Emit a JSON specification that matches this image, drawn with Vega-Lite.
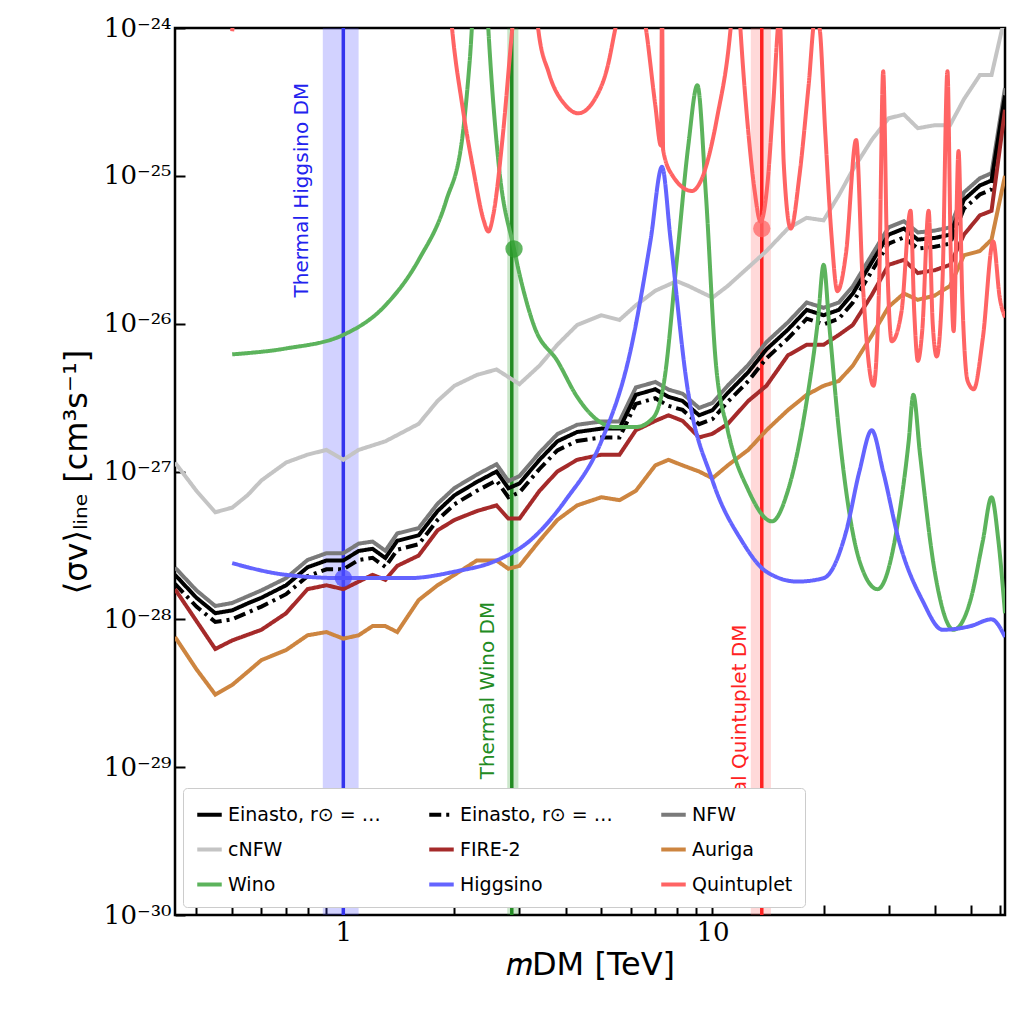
{
  "$schema": "https://vega.github.io/schema/vega-lite/v6.json",
  "width": 830,
  "height": 887,
  "autosize": "none",
  "padding": {"left": 175, "top": 28, "right": 19, "bottom": 109},
  "background": "#ffffff",
  "config": {
    "view": {"stroke": "black", "strokeWidth": 2.5},
    "font": "DejaVu Sans",
    "axis": {"labelFont": "DejaVu Serif", "labelFontSize": 26, "labelColor": "black", "titleFontSize": 32, "titleFontWeight": "normal", "titleColor": "black", "domain": false, "grid": false, "tickColor": "black", "tickSize": -10, "tickWidth": 2, "labelPadding": 14}
  },
  "datasets": {
    "curves": [
      {"s":"NFW","x":0.35,"y":2.24e-28},{"s":"NFW","x":0.4,"y":1.57e-28},{"s":"NFW","x":0.45,"y":1.23e-28},{"s":"NFW","x":0.5,"y":1.29e-28},{"s":"NFW","x":0.55,"y":1.43e-28},{"s":"NFW","x":0.6,"y":1.57e-28},{"s":"NFW","x":0.7,"y":1.9e-28},{"s":"NFW","x":0.8,"y":2.52e-28},{"s":"NFW","x":0.9,"y":2.8e-28},{"s":"NFW","x":1.0,"y":2.8e-28},{"s":"NFW","x":1.1,"y":3.25e-28},{"s":"NFW","x":1.2,"y":3.36e-28},{"s":"NFW","x":1.3,"y":2.91e-28},{"s":"NFW","x":1.4,"y":3.81e-28},{"s":"NFW","x":1.6,"y":4.14e-28},{"s":"NFW","x":1.8,"y":6.05e-28},{"s":"NFW","x":2.0,"y":7.73e-28},{"s":"NFW","x":2.3,"y":9.52e-28},{"s":"NFW","x":2.6,"y":11.2e-28},{"s":"NFW","x":2.8,"y":8.62e-28},{"s":"NFW","x":3.0,"y":9.3e-28},{"s":"NFW","x":3.4,"y":13.4e-28},{"s":"NFW","x":3.8,"y":17.9e-28},{"s":"NFW","x":4.3,"y":20.7e-28},{"s":"NFW","x":5.0,"y":21.8e-28},{"s":"NFW","x":5.6,"y":21.8e-28},{"s":"NFW","x":6.2,"y":37e-28},{"s":"NFW","x":7.0,"y":40.3e-28},{"s":"NFW","x":7.6,"y":35.8e-28},{"s":"NFW","x":8.3,"y":33.6e-28},{"s":"NFW","x":9.2,"y":26.9e-28},{"s":"NFW","x":10,"y":29.1e-28},{"s":"NFW","x":11,"y":38.1e-28},{"s":"NFW","x":12.5,"y":52.6e-28},{"s":"NFW","x":14,"y":75e-28},{"s":"NFW","x":16,"y":102e-28},{"s":"NFW","x":18,"y":139e-28},{"s":"NFW","x":20,"y":128e-28},{"s":"NFW","x":22,"y":139e-28},{"s":"NFW","x":24,"y":179e-28},{"s":"NFW","x":27,"y":291e-28},{"s":"NFW","x":30,"y":448e-28},{"s":"NFW","x":33,"y":493e-28},{"s":"NFW","x":36,"y":414e-28},{"s":"NFW","x":40,"y":426e-28},{"s":"NFW","x":44,"y":448e-28},{"s":"NFW","x":48,"y":773e-28},{"s":"NFW","x":53,"y":963e-28},{"s":"NFW","x":57,"y":1042e-28},{"s":"NFW","x":62,"y":3920e-28},

      {"s":"E1","x":0.35,"y":2.0e-28},{"s":"E1","x":0.4,"y":1.4e-28},{"s":"E1","x":0.45,"y":1.1e-28},{"s":"E1","x":0.5,"y":1.15e-28},{"s":"E1","x":0.55,"y":1.28e-28},{"s":"E1","x":0.6,"y":1.4e-28},{"s":"E1","x":0.7,"y":1.7e-28},{"s":"E1","x":0.8,"y":2.25e-28},{"s":"E1","x":0.9,"y":2.5e-28},{"s":"E1","x":1.0,"y":2.5e-28},{"s":"E1","x":1.1,"y":2.9e-28},{"s":"E1","x":1.2,"y":3.0e-28},{"s":"E1","x":1.3,"y":2.6e-28},{"s":"E1","x":1.4,"y":3.4e-28},{"s":"E1","x":1.6,"y":3.7e-28},{"s":"E1","x":1.8,"y":5.4e-28},{"s":"E1","x":2.0,"y":6.9e-28},{"s":"E1","x":2.3,"y":8.5e-28},{"s":"E1","x":2.6,"y":10e-28},{"s":"E1","x":2.8,"y":7.7e-28},{"s":"E1","x":3.0,"y":8.3e-28},{"s":"E1","x":3.4,"y":12e-28},{"s":"E1","x":3.8,"y":16e-28},{"s":"E1","x":4.3,"y":18.5e-28},{"s":"E1","x":5.0,"y":19.5e-28},{"s":"E1","x":5.6,"y":19.5e-28},{"s":"E1","x":6.2,"y":33e-28},{"s":"E1","x":7.0,"y":36e-28},{"s":"E1","x":7.6,"y":32e-28},{"s":"E1","x":8.3,"y":30e-28},{"s":"E1","x":9.2,"y":24e-28},{"s":"E1","x":10,"y":26e-28},{"s":"E1","x":11,"y":34e-28},{"s":"E1","x":12.5,"y":47e-28},{"s":"E1","x":14,"y":67e-28},{"s":"E1","x":16,"y":91e-28},{"s":"E1","x":18,"y":124e-28},{"s":"E1","x":20,"y":114e-28},{"s":"E1","x":22,"y":124e-28},{"s":"E1","x":24,"y":160e-28},{"s":"E1","x":27,"y":260e-28},{"s":"E1","x":30,"y":400e-28},{"s":"E1","x":33,"y":440e-28},{"s":"E1","x":36,"y":370e-28},{"s":"E1","x":40,"y":380e-28},{"s":"E1","x":44,"y":400e-28},{"s":"E1","x":48,"y":690e-28},{"s":"E1","x":53,"y":860e-28},{"s":"E1","x":57,"y":930e-28},{"s":"E1","x":62,"y":3500e-28},

      {"s":"E2","x":0.35,"y":1.74e-28},{"s":"E2","x":0.4,"y":1.22e-28},{"s":"E2","x":0.45,"y":0.96e-28},{"s":"E2","x":0.5,"y":1.0e-28},{"s":"E2","x":0.55,"y":1.11e-28},{"s":"E2","x":0.6,"y":1.22e-28},{"s":"E2","x":0.7,"y":1.48e-28},{"s":"E2","x":0.8,"y":1.96e-28},{"s":"E2","x":0.9,"y":2.18e-28},{"s":"E2","x":1.0,"y":2.18e-28},{"s":"E2","x":1.1,"y":2.52e-28},{"s":"E2","x":1.2,"y":2.61e-28},{"s":"E2","x":1.3,"y":2.26e-28},{"s":"E2","x":1.4,"y":2.96e-28},{"s":"E2","x":1.6,"y":3.22e-28},{"s":"E2","x":1.8,"y":4.7e-28},{"s":"E2","x":2.0,"y":6.0e-28},{"s":"E2","x":2.3,"y":7.4e-28},{"s":"E2","x":2.6,"y":8.7e-28},{"s":"E2","x":2.8,"y":6.7e-28},{"s":"E2","x":3.0,"y":7.22e-28},{"s":"E2","x":3.4,"y":10.4e-28},{"s":"E2","x":3.8,"y":13.9e-28},{"s":"E2","x":4.3,"y":16.1e-28},{"s":"E2","x":5.0,"y":17e-28},{"s":"E2","x":5.6,"y":17e-28},{"s":"E2","x":6.2,"y":28.7e-28},{"s":"E2","x":7.0,"y":31.3e-28},{"s":"E2","x":7.6,"y":27.8e-28},{"s":"E2","x":8.3,"y":26.1e-28},{"s":"E2","x":9.2,"y":20.9e-28},{"s":"E2","x":10,"y":22.6e-28},{"s":"E2","x":11,"y":29.6e-28},{"s":"E2","x":12.5,"y":40.9e-28},{"s":"E2","x":14,"y":58.3e-28},{"s":"E2","x":16,"y":79.2e-28},{"s":"E2","x":18,"y":108e-28},{"s":"E2","x":20,"y":99e-28},{"s":"E2","x":22,"y":108e-28},{"s":"E2","x":24,"y":139e-28},{"s":"E2","x":27,"y":226e-28},{"s":"E2","x":30,"y":348e-28},{"s":"E2","x":33,"y":383e-28},{"s":"E2","x":36,"y":322e-28},{"s":"E2","x":40,"y":331e-28},{"s":"E2","x":44,"y":348e-28},{"s":"E2","x":48,"y":600e-28},{"s":"E2","x":53,"y":748e-28},{"s":"E2","x":57,"y":809e-28},{"s":"E2","x":62,"y":3045e-28},

      {"s":"FIRE","x":0.35,"y":1.6e-28},{"s":"FIRE","x":0.45,"y":0.63e-28},{"s":"FIRE","x":0.5,"y":0.72e-28},{"s":"FIRE","x":0.6,"y":0.85e-28},{"s":"FIRE","x":0.7,"y":1.1e-28},{"s":"FIRE","x":0.8,"y":1.6e-28},{"s":"FIRE","x":0.9,"y":1.7e-28},{"s":"FIRE","x":1.0,"y":1.6e-28},{"s":"FIRE","x":1.2,"y":2.0e-28},{"s":"FIRE","x":1.3,"y":1.85e-28},{"s":"FIRE","x":1.4,"y":2.3e-28},{"s":"FIRE","x":1.6,"y":2.7e-28},{"s":"FIRE","x":1.8,"y":4.0e-28},{"s":"FIRE","x":2.0,"y":4.7e-28},{"s":"FIRE","x":2.3,"y":5.4e-28},{"s":"FIRE","x":2.6,"y":5.9e-28},{"s":"FIRE","x":2.8,"y":4.8e-28},{"s":"FIRE","x":3.0,"y":4.8e-28},{"s":"FIRE","x":3.4,"y":7.4e-28},{"s":"FIRE","x":3.8,"y":10e-28},{"s":"FIRE","x":4.3,"y":12e-28},{"s":"FIRE","x":5.0,"y":13e-28},{"s":"FIRE","x":5.6,"y":13e-28},{"s":"FIRE","x":6.2,"y":19e-28},{"s":"FIRE","x":7.0,"y":22e-28},{"s":"FIRE","x":7.6,"y":24e-28},{"s":"FIRE","x":8.3,"y":22e-28},{"s":"FIRE","x":9.2,"y":17e-28},{"s":"FIRE","x":10,"y":18e-28},{"s":"FIRE","x":11,"y":21e-28},{"s":"FIRE","x":12.5,"y":30e-28},{"s":"FIRE","x":14,"y":38e-28},{"s":"FIRE","x":16,"y":61e-28},{"s":"FIRE","x":18,"y":72e-28},{"s":"FIRE","x":20,"y":72e-28},{"s":"FIRE","x":22,"y":84e-28},{"s":"FIRE","x":24,"y":98e-28},{"s":"FIRE","x":27,"y":156e-28},{"s":"FIRE","x":30,"y":250e-28},{"s":"FIRE","x":33,"y":270e-28},{"s":"FIRE","x":36,"y":220e-28},{"s":"FIRE","x":40,"y":230e-28},{"s":"FIRE","x":44,"y":250e-28},{"s":"FIRE","x":48,"y":400e-28},{"s":"FIRE","x":53,"y":540e-28},{"s":"FIRE","x":57,"y":580e-28},{"s":"FIRE","x":62,"y":2800e-28},

      {"s":"Aur","x":0.35,"y":0.76e-28},{"s":"Aur","x":0.4,"y":0.46e-28},{"s":"Aur","x":0.45,"y":0.31e-28},{"s":"Aur","x":0.5,"y":0.36e-28},{"s":"Aur","x":0.55,"y":0.44e-28},{"s":"Aur","x":0.6,"y":0.53e-28},{"s":"Aur","x":0.7,"y":0.62e-28},{"s":"Aur","x":0.8,"y":0.78e-28},{"s":"Aur","x":0.9,"y":0.82e-28},{"s":"Aur","x":1.0,"y":0.74e-28},{"s":"Aur","x":1.1,"y":0.78e-28},{"s":"Aur","x":1.2,"y":0.9e-28},{"s":"Aur","x":1.3,"y":0.9e-28},{"s":"Aur","x":1.4,"y":0.82e-28},{"s":"Aur","x":1.6,"y":1.35e-28},{"s":"Aur","x":1.8,"y":1.7e-28},{"s":"Aur","x":2.0,"y":2.0e-28},{"s":"Aur","x":2.3,"y":2.5e-28},{"s":"Aur","x":2.6,"y":2.5e-28},{"s":"Aur","x":2.8,"y":2.2e-28},{"s":"Aur","x":3.0,"y":2.3e-28},{"s":"Aur","x":3.4,"y":3.4e-28},{"s":"Aur","x":3.8,"y":4.7e-28},{"s":"Aur","x":4.3,"y":5.9e-28},{"s":"Aur","x":5.0,"y":6.7e-28},{"s":"Aur","x":5.6,"y":6.4e-28},{"s":"Aur","x":6.2,"y":7.4e-28},{"s":"Aur","x":7.0,"y":11e-28},{"s":"Aur","x":7.6,"y":12e-28},{"s":"Aur","x":8.3,"y":11e-28},{"s":"Aur","x":9.2,"y":10e-28},{"s":"Aur","x":10,"y":9e-28},{"s":"Aur","x":11,"y":11e-28},{"s":"Aur","x":12.5,"y":14e-28},{"s":"Aur","x":14,"y":19e-28},{"s":"Aur","x":16,"y":26e-28},{"s":"Aur","x":18,"y":33e-28},{"s":"Aur","x":20,"y":38e-28},{"s":"Aur","x":22,"y":41e-28},{"s":"Aur","x":24,"y":52e-28},{"s":"Aur","x":27,"y":83e-28},{"s":"Aur","x":30,"y":130e-28},{"s":"Aur","x":33,"y":160e-28},{"s":"Aur","x":36,"y":145e-28},{"s":"Aur","x":40,"y":155e-28},{"s":"Aur","x":44,"y":180e-28},{"s":"Aur","x":48,"y":290e-28},{"s":"Aur","x":53,"y":310e-28},{"s":"Aur","x":57,"y":370e-28},{"s":"Aur","x":62,"y":1000e-28},

      {"s":"cNFW","x":0.35,"y":11.5e-28},{"s":"cNFW","x":0.4,"y":7.4e-28},{"s":"cNFW","x":0.45,"y":5.3e-28},{"s":"cNFW","x":0.5,"y":5.7e-28},{"s":"cNFW","x":0.55,"y":6.9e-28},{"s":"cNFW","x":0.6,"y":8.7e-28},{"s":"cNFW","x":0.7,"y":11.5e-28},{"s":"cNFW","x":0.8,"y":13e-28},{"s":"cNFW","x":0.9,"y":14e-28},{"s":"cNFW","x":1.0,"y":12e-28},{"s":"cNFW","x":1.1,"y":14e-28},{"s":"cNFW","x":1.3,"y":16e-28},{"s":"cNFW","x":1.6,"y":21e-28},{"s":"cNFW","x":1.8,"y":30e-28},{"s":"cNFW","x":2.0,"y":38e-28},{"s":"cNFW","x":2.3,"y":45e-28},{"s":"cNFW","x":2.6,"y":49e-28},{"s":"cNFW","x":3.0,"y":39e-28},{"s":"cNFW","x":3.4,"y":52e-28},{"s":"cNFW","x":3.8,"y":72e-28},{"s":"cNFW","x":4.3,"y":98e-28},{"s":"cNFW","x":5.0,"y":114e-28},{"s":"cNFW","x":5.6,"y":106e-28},{"s":"cNFW","x":6.2,"y":133e-28},{"s":"cNFW","x":7.0,"y":167e-28},{"s":"cNFW","x":8.0,"y":194e-28},{"s":"cNFW","x":8.6,"y":180e-28},{"s":"cNFW","x":10,"y":150e-28},{"s":"cNFW","x":11,"y":180e-28},{"s":"cNFW","x":12.5,"y":240e-28},{"s":"cNFW","x":14,"y":310e-28},{"s":"cNFW","x":16,"y":440e-28},{"s":"cNFW","x":18,"y":520e-28},{"s":"cNFW","x":20,"y":500e-28},{"s":"cNFW","x":22,"y":740e-28},{"s":"cNFW","x":24,"y":1100e-28},{"s":"cNFW","x":27,"y":1750e-28},{"s":"cNFW","x":30,"y":2450e-28},{"s":"cNFW","x":33,"y":2600e-28},{"s":"cNFW","x":36,"y":2100e-28},{"s":"cNFW","x":40,"y":2200e-28},{"s":"cNFW","x":44,"y":2200e-28},{"s":"cNFW","x":48,"y":3300e-28},{"s":"cNFW","x":53,"y":4800e-28},{"s":"cNFW","x":57,"y":4800e-28},{"s":"cNFW","x":62,"y":12000e-28},

      {"s":"Wino","x":0.5,"y":6.2e-27},{"s":"Wino","x":0.7,"y":6.8e-27},{"s":"Wino","x":1.0,"y":8.4e-27},{"s":"Wino","x":1.3,"y":1.33e-26},{"s":"Wino","x":1.6,"y":2.7e-26},{"s":"Wino","x":1.9,"y":6.8e-26},{"s":"Wino","x":2.1,"y":1.8e-25},{"s":"Wino","x":2.2,"y":6e-25},{"s":"Wino","x":2.3,"y":3e-24},{"s":"Wino","x":2.4,"y":4e-24},{"s":"Wino","x":2.47,"y":1e-24},{"s":"Wino","x":2.63,"y":1.26e-25},{"s":"Wino","x":2.9,"y":3.2e-26},{"s":"Wino","x":3.3,"y":9.4e-27},{"s":"Wino","x":3.8,"y":5.6e-27},{"s":"Wino","x":4.3,"y":3.2e-27},{"s":"Wino","x":4.8,"y":2.3e-27},{"s":"Wino","x":5.4,"y":2.0e-27},{"s":"Wino","x":6.2,"y":2.0e-27},{"s":"Wino","x":6.9,"y":2.3e-27},{"s":"Wino","x":7.4,"y":4.1e-27},{"s":"Wino","x":8.0,"y":2.65e-26},{"s":"Wino","x":8.6,"y":1.6e-25},{"s":"Wino","x":9.1,"y":4.1e-25},{"s":"Wino","x":9.6,"y":7.4e-26},{"s":"Wino","x":10.2,"y":5.6e-27},{"s":"Wino","x":11,"y":1.9e-27},{"s":"Wino","x":12.5,"y":7.5e-28},{"s":"Wino","x":14.5,"y":4.6e-28},{"s":"Wino","x":16,"y":7.4e-28},{"s":"Wino","x":18,"y":3e-27},{"s":"Wino","x":19.3,"y":1.05e-26},{"s":"Wino","x":20,"y":2.5e-26},{"s":"Wino","x":20.7,"y":1.0e-26},{"s":"Wino","x":22,"y":1.9e-27},{"s":"Wino","x":25,"y":2.5e-28},{"s":"Wino","x":28,"y":1.6e-28},{"s":"Wino","x":32,"y":5e-28},{"s":"Wino","x":34,"y":1.6e-27},{"s":"Wino","x":35,"y":3.3e-27},{"s":"Wino","x":36.5,"y":1.3e-27},{"s":"Wino","x":40,"y":2.1e-28},{"s":"Wino","x":45,"y":0.85e-28},{"s":"Wino","x":50,"y":1.35e-28},{"s":"Wino","x":54,"y":3.4e-28},{"s":"Wino","x":57,"y":6.7e-28},{"s":"Wino","x":59.5,"y":3.4e-28},{"s":"Wino","x":62,"y":1.1e-28},

      {"s":"Hig","x":0.5,"y":2.4e-28},{"s":"Hig","x":0.7,"y":2.0e-28},{"s":"Hig","x":1.0,"y":1.9e-28},{"s":"Hig","x":1.5,"y":1.9e-28},{"s":"Hig","x":2.0,"y":2.1e-28},{"s":"Hig","x":2.6,"y":2.5e-28},{"s":"Hig","x":3.2,"y":3.4e-28},{"s":"Hig","x":4.0,"y":6.4e-28},{"s":"Hig","x":5.0,"y":1.6e-27},{"s":"Hig","x":6.0,"y":6.6e-27},{"s":"Hig","x":6.8,"y":3.7e-26},{"s":"Hig","x":7.3,"y":1.15e-25},{"s":"Hig","x":7.7,"y":3.7e-26},{"s":"Hig","x":8.5,"y":4.1e-27},{"s":"Hig","x":10,"y":8.7e-28},{"s":"Hig","x":12,"y":3.4e-28},{"s":"Hig","x":14,"y":2.1e-28},{"s":"Hig","x":17,"y":1.8e-28},{"s":"Hig","x":20,"y":1.9e-28},{"s":"Hig","x":23,"y":3.9e-28},{"s":"Hig","x":25,"y":1.0e-27},{"s":"Hig","x":27,"y":1.9e-27},{"s":"Hig","x":29,"y":1.0e-27},{"s":"Hig","x":32,"y":3.4e-28},{"s":"Hig","x":37,"y":1.35e-28},{"s":"Hig","x":42,"y":0.85e-28},{"s":"Hig","x":50,"y":0.9e-28},{"s":"Hig","x":57,"y":1.0e-28},{"s":"Hig","x":62,"y":0.76e-28},

      {"s":"Quin","x":0.5,"y":9.5e-25},{"s":"Quin","x":0.53,"y":3e-24},{"s":"Quin","x":1.9,"y":3e-24},{"s":"Quin","x":1.97,"y":1e-24},{"s":"Quin","x":2.1,"y":3e-25},{"s":"Quin","x":2.25,"y":1.1e-25},{"s":"Quin","x":2.4,"y":5e-26},{"s":"Quin","x":2.47,"y":4.2e-26},{"s":"Quin","x":2.55,"y":5.5e-26},{"s":"Quin","x":2.7,"y":1.8e-25},{"s":"Quin","x":2.87,"y":1e-24},{"s":"Quin","x":3.0,"y":3e-24},{"s":"Quin","x":3.25,"y":3e-24},{"s":"Quin","x":3.37,"y":1e-24},{"s":"Quin","x":3.6,"y":5e-25},{"s":"Quin","x":4.0,"y":3e-25},{"s":"Quin","x":4.33,"y":2.65e-25},{"s":"Quin","x":4.8,"y":3.3e-25},{"s":"Quin","x":5.2,"y":5.5e-25},{"s":"Quin","x":5.46,"y":1e-24},{"s":"Quin","x":6.0,"y":3e-24},{"s":"Quin","x":6.6,"y":1e-24},{"s":"Quin","x":7.0,"y":3e-25},{"s":"Quin","x":7.25,"y":1.6e-25},{"s":"Quin","x":7.3,"y":1.5e-24},{"s":"Quin","x":7.35,"y":1.5e-25},{"s":"Quin","x":7.8,"y":1e-25},{"s":"Quin","x":8.8,"y":7.9e-26},{"s":"Quin","x":9.25,"y":9e-26},{"s":"Quin","x":10.3,"y":2.5e-25},{"s":"Quin","x":11.2,"y":1e-24},{"s":"Quin","x":11.6,"y":3e-24},{"s":"Quin","x":11.9,"y":1e-24},{"s":"Quin","x":12.5,"y":2e-25},{"s":"Quin","x":13.0,"y":8e-26},{"s":"Quin","x":13.5,"y":4.9e-26},{"s":"Quin","x":14.1,"y":9e-26},{"s":"Quin","x":14.6,"y":3e-25},{"s":"Quin","x":15.2,"y":1.2e-24},{"s":"Quin","x":15.6,"y":1.2e-25},{"s":"Quin","x":16.3,"y":4.4e-26},{"s":"Quin","x":17.2,"y":1e-25},{"s":"Quin","x":18.2,"y":4e-25},{"s":"Quin","x":19,"y":1.2e-24},{"s":"Quin","x":19.5,"y":1e-24},{"s":"Quin","x":20.2,"y":2e-25},{"s":"Quin","x":21,"y":4e-26},{"s":"Quin","x":21.8,"y":1.66e-26},{"s":"Quin","x":23,"y":3e-26},{"s":"Quin","x":24.5,"y":1.75e-25},{"s":"Quin","x":25.5,"y":2e-26},{"s":"Quin","x":27.3,"y":3.8e-27},{"s":"Quin","x":28.3,"y":2e-26},{"s":"Quin","x":29,"y":5.1e-25},{"s":"Quin","x":29.7,"y":3e-26},{"s":"Quin","x":30.6,"y":7.6e-27},{"s":"Quin","x":32.5,"y":1.2e-26},{"s":"Quin","x":34.4,"y":5.8e-26},{"s":"Quin","x":35.2,"y":1.2e-26},{"s":"Quin","x":36,"y":5.6e-27},{"s":"Quin","x":37,"y":9e-27},{"s":"Quin","x":38.5,"y":5.8e-26},{"s":"Quin","x":39.5,"y":1e-26},{"s":"Quin","x":40.5,"y":6e-27},{"s":"Quin","x":42,"y":2e-26},{"s":"Quin","x":43.3,"y":5.1e-25},{"s":"Quin","x":44.2,"y":3e-26},{"s":"Quin","x":45,"y":8.9e-27},{"s":"Quin","x":46.4,"y":1.47e-25},{"s":"Quin","x":47.5,"y":1.5e-26},{"s":"Quin","x":49.1,"y":4.1e-27},{"s":"Quin","x":51,"y":3.6e-27},{"s":"Quin","x":54,"y":8e-27},{"s":"Quin","x":57.6,"y":3.6e-26},{"s":"Quin","x":60,"y":1.5e-26},{"s":"Quin","x":62,"y":1.1e-26}
    ]
  },
  "layer": [
    {
      "data": {"values": [{"lo": 0.88, "hi": 1.1, "m": 1.0, "c": "H"}, {"lo": 2.78, "hi": 2.98, "m": 2.86, "c": "W"}, {"lo": 12.7, "hi": 14.4, "m": 13.6, "c": "Q"}]},
      "layer": [
        {
          "mark": {"type": "rect", "opacity": 0.25},
          "encoding": {
            "x": {"field": "lo", "type": "quantitative", "scale": {"type": "log", "domain": [0.35, 62]}},
            "x2": {"field": "hi"},
            "fill": {"field": "c", "type": "nominal", "scale": {"domain": ["H", "W", "Q"], "range": ["#4d4dff", "#2e9e2e", "#ff6666"]}, "legend": null}
          }
        },
        {
          "mark": {"type": "rule", "strokeWidth": 3.5},
          "encoding": {
            "x": {"field": "m", "type": "quantitative", "scale": {"type": "log", "domain": [0.35, 62]}},
            "stroke": {"field": "c", "type": "nominal", "scale": {"domain": ["H", "W", "Q"], "range": ["#3333ee", "#228b22", "#ff2222"]}, "legend": null}
          }
        }
      ]
    },
    {
      "data": {"name": "curves"},
      "transform": [{"filter": "indexof(['Wino','Hig','Quin'], datum.s) < 0"}],
      "mark": {"type": "line", "clip": true},
      "encoding": {
        "x": {
          "field": "x", "type": "quantitative",
          "scale": {"type": "log", "domain": [0.35, 62], "nice": false},
          "axis": {"title": "𝑚DM [TeV]", "values": [0.4,0.5,0.6,0.7,0.8,0.9,1,2,3,4,5,6,7,8,9,10,20,30,40,50,60], "labelExpr": "datum.value == 1 || datum.value == 10 ? datum.value : ''", "titlePadding": 4}
        },
        "y": {
          "field": "y", "type": "quantitative",
          "scale": {"type": "log", "domain": [1e-30, 1e-24], "nice": false},
          "axis": {"title": "⟨σv⟩ₗᵢₙₑ [cm³s⁻¹]", "values": [1e-30,1e-29,1e-28,1e-27,1e-26,1e-25,1e-24], "labelExpr": "'10' + ['⁻³⁰','⁻²⁹','⁻²⁸','⁻²⁷','⁻²⁶','⁻²⁵','⁻²⁴'][round(log(datum.value)/LN10)+30]", "titlePadding": 10}
        },
        "color": {
          "field": "s", "type": "nominal",
          "scale": {"domain": ["E1","cNFW","Wino","E2","FIRE","Hig","NFW","Aur","Quin"], "range": ["#000000","#c4c4c4","#5cb35c","#000000","#a52a2a","#6464ff","#7a7a7a","#cd8540","#ff6464"]},
          "legend": {
            "title": null, "orient": "bottom-left", "columns": 3, "columnPadding": 40, "rowPadding": 10,
            "symbolType": "stroke", "symbolSize": 600, "symbolStrokeWidth": 3.5,
            "labelFontSize": 19, "labelFont": "DejaVu Sans", "labelColor": "black",
            "fillColor": "white", "strokeColor": "#cccccc", "padding": 12, "cornerRadius": 4, "offset": 8,
            "labelExpr": "{'E1':'Einasto, r⊙ = 8.178 kpc','E2':'Einasto, r⊙ = 8.5 kpc','NFW':'NFW','cNFW':'cNFW','FIRE':'FIRE-2','Aur':'Auriga','Wino':'Wino','Hig':'Higgsino','Quin':'Quintuplet'}[datum.label]"
          }
        },
        "strokeDash": {
          "field": "s", "type": "nominal",
          "scale": {"domain": ["E1","cNFW","Wino","E2","FIRE","Hig","NFW","Aur","Quin"], "range": [[1,0],[1,0],[1,0],[12,5,3,5],[1,0],[1,0],[1,0],[1,0],[1,0]]},
          "legend": null
        },
        "strokeWidth": {
          "field": "s", "type": "nominal",
          "scale": {"domain": ["E1","cNFW","Wino","E2","FIRE","Hig","NFW","Aur","Quin"], "range": [4,4,2.8,4,3.5,2.8,6,3.5,2.8]},
          "legend": null
        }
      }
    },
    {
      "data": {"name": "curves"},
      "transform": [{"filter": "indexof(['Wino','Hig','Quin'], datum.s) >= 0"}],
      "mark": {"type": "line", "clip": true, "interpolate": "monotone"},
      "encoding": {
        "x": {"field": "x", "type": "quantitative", "scale": {"type": "log", "domain": [0.35, 62], "nice": false}},
        "y": {"field": "y", "type": "quantitative", "scale": {"type": "log", "domain": [1e-30, 1e-24], "nice": false}},
        "color": {"field": "s", "type": "nominal"},
        "strokeDash": {"field": "s", "type": "nominal"},
        "strokeWidth": {"field": "s", "type": "nominal"}
      }
    },
    {
      "data": {"values": [{"x": 1.0, "y": 1.9e-28, "c": "H"}, {"x": 2.9, "y": 3.2e-26, "c": "W"}, {"x": 13.6, "y": 4.4e-26, "c": "Q"}]},
      "mark": {"type": "circle", "size": 300, "opacity": 0.75},
      "encoding": {
        "x": {"field": "x", "type": "quantitative", "scale": {"type": "log", "domain": [0.35, 62]}},
        "y": {"field": "y", "type": "quantitative", "scale": {"type": "log", "domain": [1e-30, 1e-24]}},
        "fill": {"field": "c", "type": "nominal", "scale": {"domain": ["H", "W", "Q"], "range": ["#3333ee", "#228b22", "#ff2222"]}, "legend": null}
      }
    },
    {
      "data": {"values": [{"t": "Thermal Higgsino DM", "x": 0.774, "y": 8e-26}]},
      "mark": {"type": "text", "angle": 270, "fontSize": 20, "color": "#2222ee"},
      "encoding": {
        "x": {"field": "x", "type": "quantitative", "scale": {"type": "log", "domain": [0.35, 62]}},
        "y": {"field": "y", "type": "quantitative", "scale": {"type": "log", "domain": [1e-30, 1e-24]}},
        "text": {"field": "t"}
      }
    },
    {
      "data": {"values": [{"t": "Thermal Wino DM", "x": 2.47, "y": 3.3e-29}]},
      "mark": {"type": "text", "angle": 270, "fontSize": 20, "color": "#228b22"},
      "encoding": {
        "x": {"field": "x", "type": "quantitative", "scale": {"type": "log", "domain": [0.35, 62]}},
        "y": {"field": "y", "type": "quantitative", "scale": {"type": "log", "domain": [1e-30, 1e-24]}},
        "text": {"field": "t"}
      }
    },
    {
      "data": {"values": [{"t": "Thermal Quintuplet DM", "x": 11.9, "y": 1.5e-29}]},
      "mark": {"type": "text", "angle": 270, "fontSize": 20, "color": "#ff2222"},
      "encoding": {
        "x": {"field": "x", "type": "quantitative", "scale": {"type": "log", "domain": [0.35, 62]}},
        "y": {"field": "y", "type": "quantitative", "scale": {"type": "log", "domain": [1e-30, 1e-24]}},
        "text": {"field": "t"}
      }
    }
  ]
}
